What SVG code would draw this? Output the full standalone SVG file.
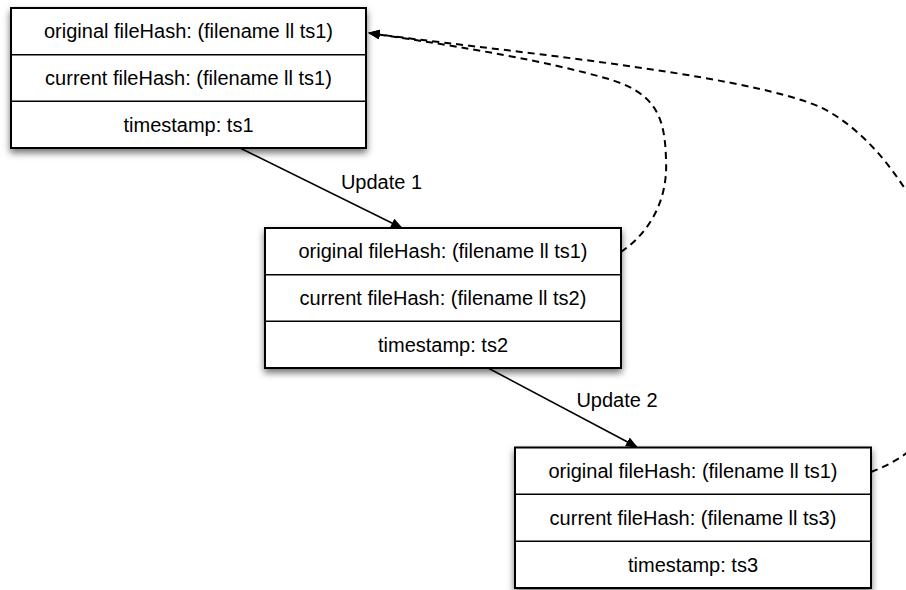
<svg xmlns="http://www.w3.org/2000/svg" width="906" height="590" viewBox="0 0 906 590">
<style>
.box{fill:#fff;stroke:#000;stroke-width:2}
.sep{stroke:#000;stroke-width:1.5}
.t{font-family:"Liberation Sans",Arial,sans-serif;font-size:20px;fill:#000;text-anchor:middle}
.solid{fill:none;stroke:#000;stroke-width:1.6}
.dash{fill:none;stroke:#000;stroke-width:2;stroke-dasharray:7 5}
</style>
<defs>
<filter id="sh" x="-10%" y="-10%" width="120%" height="130%">
<feDropShadow dx="0" dy="4" stdDeviation="3.5" flood-color="#000" flood-opacity="0.55"/>
</filter>
<marker id="ah" viewBox="0 0 12 10" refX="11" refY="5" markerWidth="12" markerHeight="10" markerUnits="userSpaceOnUse" orient="auto">
<path d="M0,0 L12,5 L0,10 Z" fill="#000"/>
</marker>
</defs>
<g id="connectors">
<path class="solid" d="M240,148 L402,228" marker-end="url(#ah)"/>
<path class="solid" d="M488,368 L637,447" marker-end="url(#ah)"/>
<path class="dash" d="M621,252 C650,232 668,200 666,160 C665,115 655,92 605,78 C545,61 470,48 369,33" marker-end="url(#ah)"/>
<path class="dash" d="M871,472 C945,445 975,370 955,300 C935,230 888,140 820,107 C740,72 480,49 369,33" marker-end="url(#ah)"/>
<text class="t" x="381.5" y="189">Update 1</text>
<text class="t" x="617" y="407">Update 2</text>
</g>
<g id="node1">
<rect class="box" x="11" y="8" width="355" height="140" filter="url(#sh)"/>
<line class="sep" x1="11" y1="54.7" x2="366" y2="54.7"/>
<line class="sep" x1="11" y1="101.3" x2="366" y2="101.3"/>
<text class="t" x="188.5" y="38">original fileHash: (filename ll ts1)</text>
<text class="t" x="188.5" y="85">current fileHash: (filename ll ts1)</text>
<text class="t" x="188.5" y="131.5">timestamp: ts1</text>
</g>
<g id="node2">
<rect class="box" x="265" y="228" width="356" height="140" filter="url(#sh)"/>
<line class="sep" x1="265" y1="274.7" x2="621" y2="274.7"/>
<line class="sep" x1="265" y1="321.3" x2="621" y2="321.3"/>
<text class="t" x="443" y="258">original fileHash: (filename ll ts1)</text>
<text class="t" x="443" y="305">current fileHash: (filename ll ts2)</text>
<text class="t" x="443" y="351.5">timestamp: ts2</text>
</g>
<g id="node3">
<rect class="box" x="515" y="447.5" width="356" height="140.5" filter="url(#sh)"/>
<line class="sep" x1="515" y1="494.3" x2="871" y2="494.3"/>
<line class="sep" x1="515" y1="541.2" x2="871" y2="541.2"/>
<text class="t" x="693" y="478">original fileHash: (filename ll ts1)</text>
<text class="t" x="693" y="525">current fileHash: (filename ll ts3)</text>
<text class="t" x="693" y="571.5">timestamp: ts3</text>
</g>
</svg>
